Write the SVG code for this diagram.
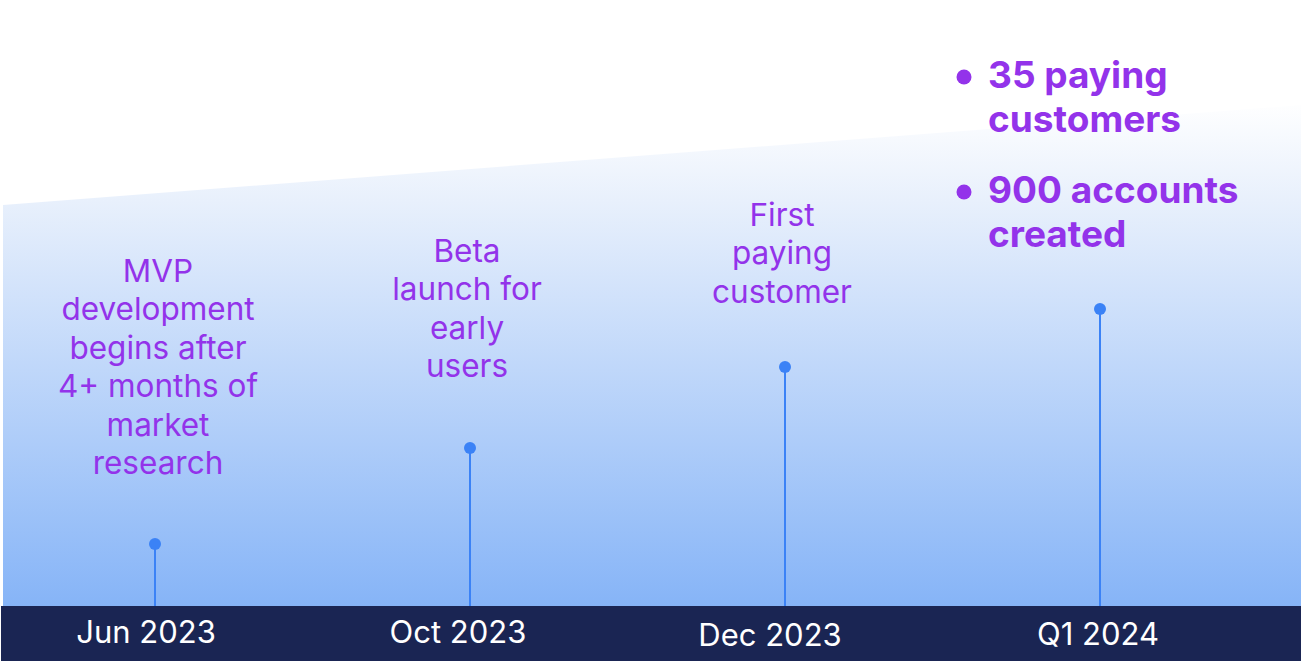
<svg xmlns="http://www.w3.org/2000/svg" width="1301" height="661" viewBox="0 0 1301 661">
<defs>
<linearGradient id="bg" x1="0" y1="100" x2="0" y2="606" gradientUnits="userSpaceOnUse">
<stop offset="0" stop-color="#ffffff"/>
<stop offset="0.2" stop-color="#e8f0fc"/>
<stop offset="1" stop-color="#86b4f7"/>
</linearGradient>
<style>
.lbl{font-family:Inter,"Noto Sans",sans-serif;font-size:31.5px;fill:#9333ea;text-anchor:middle}
.big{font-family:Inter,"Noto Sans",sans-serif;font-size:37px;font-weight:700;fill:#9333ea}
.date{font-family:Inter,"Noto Sans",sans-serif;font-size:31px;fill:#ffffff;text-anchor:middle}
.stem{stroke:#3b82f6;stroke-width:2}
.dot{fill:#3b82f6}
</style>
</defs>
<rect width="1301" height="661" fill="#ffffff"/>
<path d="M3 205 L1301 105 L1301 606 L3 606 Z" fill="url(#bg)"/>
<rect x="1" y="606" width="1300" height="55" fill="#1a2553"/>
<g id="connectors">
<line class="stem" x1="155" y1="544" x2="155" y2="606"/>
<line class="stem" x1="470" y1="448" x2="470" y2="606"/>
<line class="stem" x1="785" y1="367" x2="785" y2="606"/>
<line class="stem" x1="1100" y1="309" x2="1100" y2="606"/>
</g>
<g id="node-jun2023">
<circle class="dot" cx="155" cy="544" r="6"/>
<text class="lbl" x="158" y="282">MVP</text>
<text class="lbl" x="158" y="320">development</text>
<text class="lbl" x="158" y="359">begins after</text>
<text class="lbl" x="158" y="397">4+ months of</text>
<text class="lbl" x="158" y="436">market</text>
<text class="lbl" x="158" y="474">research</text>
<text class="date" x="146" y="643">Jun 2023</text>
</g>
<g id="node-oct2023">
<circle class="dot" cx="470" cy="448" r="6"/>
<text class="lbl" x="467" y="262">Beta</text>
<text class="lbl" x="467" y="300">launch for</text>
<text class="lbl" x="467" y="339">early</text>
<text class="lbl" x="467" y="377">users</text>
<text class="date" x="458" y="643">Oct 2023</text>
</g>
<g id="node-dec2023">
<circle class="dot" cx="785" cy="367" r="6"/>
<text class="lbl" x="782" y="226">First</text>
<text class="lbl" x="782" y="264">paying</text>
<text class="lbl" x="782" y="303">customer</text>
<text class="date" x="770" y="646">Dec 2023</text>
</g>
<g id="node-q12024">
<circle class="dot" cx="1100" cy="309" r="6"/>
<circle fill="#9333ea" cx="964" cy="77" r="7.5"/>
<text class="big" x="988" y="88">35 paying</text>
<text class="big" x="988" y="132">customers</text>
<circle fill="#9333ea" cx="964" cy="192" r="7.5"/>
<text class="big" x="988" y="203">900 accounts</text>
<text class="big" x="988" y="247">created</text>
<text class="date" x="1098" y="645">Q1 2024</text>
</g>
</svg>
